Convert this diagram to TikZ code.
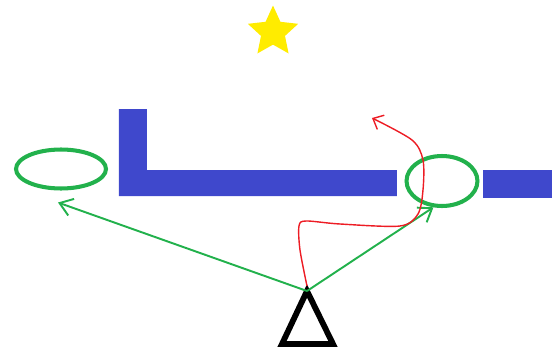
\documentclass[tikz,border=0pt]{standalone}
\usepackage{tikz}
\usetikzlibrary{positioning, calc, shapes.geometric, arrows.meta}

\definecolor{paintgreen}{RGB}{34,177,76}
\definecolor{paintblue}{RGB}{63,72,204}
\definecolor{paintred}{RGB}{237,28,36}
\definecolor{paintyellow}{RGB}{255,236,0}

\begin{document}
\begin{tikzpicture}[x=0.02cm,y=-0.02cm,
    hole/.style={ellipse, draw=paintgreen, line width=2.3pt, inner sep=0pt},
    sight/.style={paintgreen, line width=1.1pt, -{Straight Barb[length=7pt,width=10pt]}},
    wall/.style={fill=paintblue, draw=none}]
  \useasboundingbox (0,0) rectangle (556,352);
  % walls
  \fill[wall] (119,109) -- (147,109) -- (147,170) -- (397,170) -- (397,196) -- (119,196) -- cycle;
  \fill[wall] (483,170) rectangle (552,198);
  % star
  \node[star, star points=5, star point ratio=2.1, fill=paintyellow, minimum size=1.06cm, inner sep=0pt] (goal) at (273,32) {};
  % holes
  \node[hole, minimum width=1.8cm, minimum height=0.78cm] (lhole) at (61,169) {};
  \node[hole, minimum width=1.42cm, minimum height=1.0cm] (rhole) at (442,181) {};
  % observer
  \coordinate (apex) at (307,291);
  \draw[line width=3.3pt, line join=miter] (apex) -- (333,344) -- (282,344) -- cycle;
  \draw[sight] (apex) -- ([shift={(-3,12)}]lhole.south);
  \draw[sight] (apex) -- (rhole.252);
  % red path
  \draw[paintred, line width=0.8pt, -{Straight Barb[length=5pt,width=9pt]}]
    plot[smooth, tension=0.5] coordinates {(307,286) (300,250) (299,226) (306,221) (340,224) (400,226) (418,214) (423,190) (423,160) (412,140) (372,118)};
\end{tikzpicture}
\end{document}
